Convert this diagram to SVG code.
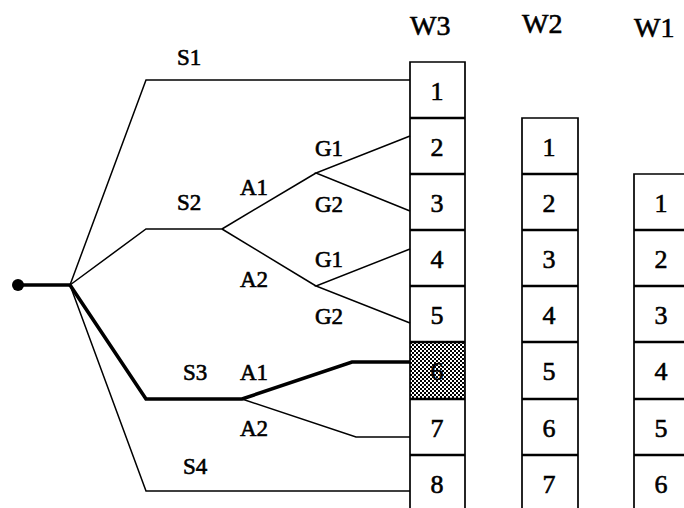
<svg xmlns="http://www.w3.org/2000/svg" width="684" height="508" viewBox="0 0 684 508">
<style>
text{font-family:"Liberation Serif","Times New Roman",serif;fill:#000;stroke:#000;stroke-width:0.6}
.lbl{font-size:23px}
.hd{font-size:28px}
.num{font-size:26px;text-anchor:middle}
.thin{fill:none;stroke:#000;stroke-width:1.5;stroke-linejoin:miter}
.thick{fill:none;stroke:#000;stroke-width:3.6;stroke-linejoin:miter}
.col{fill:none;stroke:#000;stroke-width:1.7}
.div{stroke:#000;stroke-width:2.6}
</style>
<defs>
<pattern id="dots" width="4" height="4" patternUnits="userSpaceOnUse">
<rect width="4" height="4" fill="#fff"/>
<rect width="2" height="2" fill="#000"/>
<rect x="2" y="2" width="2" height="2" fill="#000"/>
</pattern>
</defs>
<rect width="684" height="508" fill="#fff"/>

<g id="connectors">
<circle cx="18" cy="285" r="6" fill="#000"/>
<path class="thick" d="M18 285H70"/>
<path class="thin" d="M70 285L146 80H410"/>
<path class="thin" d="M70 285L146 229H222"/>
<path class="thin" d="M222 229L316 173"/>
<path class="thin" d="M222 229L316 286"/>
<path class="thin" d="M410 136L316 173L410 211"/>
<path class="thin" d="M410 249L316 286L410 323"/>
<path class="thick" d="M70 285L146 399H242L352 362H410"/>
<path class="thin" d="M242 399L356 437H410"/>
<path class="thin" d="M70 285L146 491H410"/>
</g>

<g id="labels" class="lbl">
<text x="177" y="65">S1</text>
<text x="177" y="210">S2</text>
<text x="240" y="195">A1</text>
<text x="240" y="287">A2</text>
<text x="315" y="156">G1</text>
<text x="315" y="212">G2</text>
<text x="315" y="267">G1</text>
<text x="315" y="324">G2</text>
<text x="183" y="380">S3</text>
<text x="240" y="380">A1</text>
<text x="240" y="436">A2</text>
<text x="183" y="474">S4</text>
</g>

<g id="W3">
<text class="hd" x="410" y="35">W3</text>
<rect x="410" y="342" width="55" height="57" fill="url(#dots)"/>
<path class="col" d="M410 508V62H465V508"/>
<path class="div" d="M410 118H465M410 174H465M410 230H465M410 286H465M410 342H465M410 399H465M410 455H465"/>
<g class="num">
<text x="437" y="100">1</text>
<text x="437" y="156">2</text>
<text x="437" y="212">3</text>
<text x="437" y="268">4</text>
<text x="437" y="324">5</text>
<text x="437" y="380">6</text>
<text x="437" y="437">7</text>
<text x="437" y="493">8</text>
</g>
</g>

<g id="W2">
<text class="hd" x="522" y="33">W2</text>
<path class="col" d="M522 508V118H578V508"/>
<path class="div" d="M522 174H578M522 230H578M522 286H578M522 342H578M522 399H578M522 455H578"/>
<g class="num">
<text x="549" y="156">1</text>
<text x="549" y="212">2</text>
<text x="549" y="268">3</text>
<text x="549" y="324">4</text>
<text x="549" y="380">5</text>
<text x="549" y="437">6</text>
<text x="549" y="493">7</text>
</g>
</g>

<g id="W1">
<text class="hd" x="634" y="37">W1</text>
<path class="col" d="M634 508V174H690"/>
<path class="div" d="M634 230H690M634 286H690M634 342H690M634 399H690M634 455H690"/>
<g class="num">
<text x="661" y="212">1</text>
<text x="661" y="268">2</text>
<text x="661" y="324">3</text>
<text x="661" y="380">4</text>
<text x="661" y="437">5</text>
<text x="661" y="493">6</text>
</g>
</g>
</svg>
